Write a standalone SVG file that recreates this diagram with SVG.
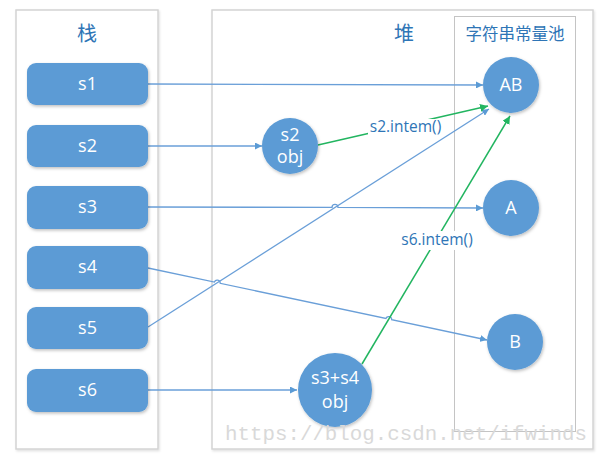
<svg xmlns="http://www.w3.org/2000/svg" width="612" height="464" viewBox="0 0 612 464">
<defs>
<style>
.cont{fill:#fff;stroke:#d4d4d4;stroke-width:1.5}
.pool{fill:none;stroke:#c4c4c4;stroke-width:1}
.node{fill:#5b9bd5;filter:url(#sh)}
.nt{font-family:"Open Sans","Liberation Sans",sans-serif;font-size:18px;fill:#fff;text-anchor:middle}
.title{font-family:"Noto Sans CJK SC","Noto Sans",sans-serif;fill:#2e75b6;text-anchor:middle}
.lbl{font-family:"Open Sans","Liberation Sans",sans-serif;font-size:15.5px;fill:#2e75b6;text-anchor:middle}
.blue{fill:none;stroke:#6a9fd8;stroke-width:1.3;marker-end:url(#ab)}
.green{fill:none;stroke:#22b560;stroke-width:1.5;marker-end:url(#ag)}
.wm{font-family:"Liberation Mono",monospace;font-size:21px;fill:#d9d9d9}
</style>
<filter id="sh" x="-20%" y="-20%" width="140%" height="150%">
<feDropShadow dx="1" dy="1.5" stdDeviation="1.5" flood-color="#000" flood-opacity="0.25"/>
</filter>
<filter id="csh" x="-5%" y="-5%" width="110%" height="110%">
<feDropShadow dx="1" dy="1.5" stdDeviation="1" flood-color="#000" flood-opacity="0.12"/>
</filter>
<marker id="ab" viewBox="0 0 10 10" refX="10" refY="5" markerWidth="7" markerHeight="7" markerUnits="userSpaceOnUse" orient="auto">
<path d="M0,0 L10,5 L0,10 z" fill="#5b9bd5"/>
</marker>
<marker id="ag" viewBox="0 0 10 10" refX="10" refY="5" markerWidth="8" markerHeight="8" markerUnits="userSpaceOnUse" orient="auto">
<path d="M0,0 L10,5 L0,10 z" fill="#22b560"/>
</marker>
</defs>
<rect width="612" height="464" fill="#fff"/>

<g id="stack">
<rect class="cont" x="16" y="10" width="142" height="439" filter="url(#csh)"/>
<text class="title" x="87" y="41" font-size="20">栈</text>
</g>
<g id="heap">
<rect class="cont" x="212" y="10" width="381" height="439" filter="url(#csh)"/>
<text class="title" x="404" y="41" font-size="20">堆</text>
</g>
<g id="pool">
<rect class="pool" x="454.5" y="16.5" width="121" height="415"/>
<text class="title" x="515" y="40" font-size="16.5">字符串常量池</text>
</g>

<g id="connectors">
<path class="blue" d="M148,84 L483,85"/>
<path class="blue" d="M148,146 L262,146"/>
<path class="blue" d="M148,207 L332,207.4 A3,3 0 0 1 338,207.4 L483,208"/>
<path class="blue" d="M148,268 L214.4,282.1 A3,3 0 0 1 220.2,283.3 L385.9,318.5 A3,3 0 0 1 391.7,319.7 L487,340"/>
<path class="blue" d="M148,327 L489,109"/>
<path class="blue" d="M148,390 L297,390"/>
<path class="green" d="M318,145 L488,106"/>
<path class="green" d="M362,364 L510,116"/>
<rect x="368" y="119" width="75" height="16" fill="#fff"/>
<text class="lbl" x="405.5" y="132">s2.intem()</text>
<rect x="399" y="231" width="77" height="19" fill="#fff"/>
<text class="lbl" x="437" y="245">s6.intem()</text>
</g>

<g id="s1"><rect class="node" x="27" y="63" width="121" height="42" rx="9"/><text class="nt" x="87.5" y="90">s1</text></g>
<g id="s2"><rect class="node" x="27" y="125" width="121" height="42" rx="9"/><text class="nt" x="87.5" y="152">s2</text></g>
<g id="s3"><rect class="node" x="27" y="186" width="121" height="43" rx="9"/><text class="nt" x="87.5" y="213">s3</text></g>
<g id="s4"><rect class="node" x="27" y="246" width="121" height="43" rx="9"/><text class="nt" x="87.5" y="273">s4</text></g>
<g id="s5"><rect class="node" x="27" y="307" width="121" height="42" rx="9"/><text class="nt" x="87.5" y="334">s5</text></g>
<g id="s6"><rect class="node" x="27" y="369" width="121" height="43" rx="9"/><text class="nt" x="87.5" y="396">s6</text></g>

<g id="s2obj"><circle class="node" cx="290" cy="146" r="28"/><text class="nt" x="290" y="141">s2</text><text class="nt" x="290" y="163">obj</text></g>
<g id="s3s4obj"><circle class="node" cx="335" cy="390" r="37"/><text class="nt" x="335" y="384">s3+s4</text><text class="nt" x="335" y="408">obj</text></g>
<g id="AB"><circle class="node" cx="511" cy="85" r="28"/><text class="nt" x="511" y="91">AB</text></g>
<g id="A"><circle class="node" cx="511" cy="208" r="28"/><text class="nt" x="511" y="214">A</text></g>
<g id="B"><circle class="node" cx="515" cy="342" r="28"/><text class="nt" x="515" y="348">B</text></g>

<text class="wm" x="225" y="440" textLength="362" lengthAdjust="spacingAndGlyphs">https://blog.csdn.net/ifwinds</text>
</svg>
